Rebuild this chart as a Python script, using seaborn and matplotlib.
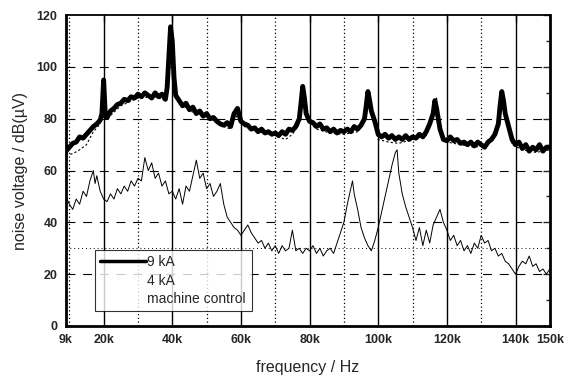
'''
    Noise spectrum: 9 kA / 4 kA / machine control
'''

import matplotlib
matplotlib.use('Agg')
import matplotlib.pyplot as plt
import matplotlib.ticker as mticker
from matplotlib.lines import Line2D
import pandas as pd
import seaborn as sns

# ---------------------------------- data ----------------------------------
f_9ka = [9, 10, 11, 12, 13, 14, 15, 16, 17, 18,
         19, 19.5, 20, 20.5, 21, 22, 23, 24, 25, 26,
         27, 28, 29, 30, 31, 32, 33, 34, 35, 36,
         37, 38, 38.5, 39, 39.5, 40, 40.5, 41, 42, 43,
         44, 45, 46, 47, 48, 49, 50, 51, 52, 53,
         54, 55, 56, 57, 58, 59, 60, 61, 62, 63,
         64, 65, 66, 67, 68, 69, 70, 71, 72, 73,
         74, 75, 76, 77, 77.5, 78, 78.5, 79, 80, 81,
         82, 83, 84, 85, 86, 87, 88, 89, 90, 91,
         92, 93, 94, 95, 96, 96.5, 97, 97.5, 98, 99,
         100, 101, 102, 103, 104, 105, 106, 107, 108, 109,
         110, 111, 112, 113, 114, 115, 116, 116.5, 117, 117.5,
         118, 119, 120, 121, 122, 123, 124, 125, 126, 127,
         128, 129, 130, 131, 132, 133, 134, 135, 135.5, 136,
         136.5, 137, 138, 139, 140, 141, 142, 143, 144, 145,
         146, 147, 148, 149, 150]
v_9ka = [67.5, 69, 70.5, 71, 73, 72.5, 74, 75.5, 77, 78,
         79.5, 82, 95, 81, 80.5, 83, 84, 85.5, 86, 87.5,
         87, 88.5, 88, 89.5, 88.5, 90, 89, 88, 90, 88.5,
         89.5, 87.5, 92, 104, 115.5, 110, 96, 89, 87, 85,
         86, 83.5, 84.5, 82, 83, 81, 82, 80, 80.5, 79,
         78, 77.5, 78.5, 77, 82, 84, 79, 78, 77.5, 76,
         76.5, 75, 76, 74.5, 75, 74, 74.5, 73.5, 75, 74,
         76, 75.5, 77, 80, 86, 92.5, 88, 82, 79, 78.5,
         77, 78, 76, 76.5, 75, 76, 74.5, 75.5, 75, 76,
         75, 77, 76, 77.5, 80, 85, 90.5, 87, 83, 79,
         74, 73, 74, 72.5, 73.5, 72, 73, 72, 73.5, 72,
         73, 72.5, 74, 73, 75, 78, 82, 87, 84, 80,
         76, 72, 71.5, 73, 71.5, 72, 70.5, 71, 70, 71,
         69.5, 71, 70, 69, 71, 72, 74, 78, 85, 90.5,
         87, 82, 77, 72, 70, 71, 68.5, 70, 67.5, 69,
         68, 70, 67.5, 69, 69]

f_4ka = [9, 10, 11, 12, 13, 14, 15, 16, 17, 17.5,
         18, 19, 20, 21, 22, 23, 24, 25, 26, 27,
         28, 29, 30, 31, 32, 33, 34, 35, 36, 37,
         38, 39, 40, 41, 42, 43, 44, 45, 46, 47,
         48, 49, 50, 51, 52, 53, 54, 55, 56, 57,
         58, 59, 60, 61, 62, 63, 64, 65, 66, 67,
         68, 69, 70, 71, 72, 73, 74, 75, 76, 77,
         78, 79, 80, 81, 82, 83, 84, 85, 86, 87,
         88, 89, 90, 91, 92, 92.5, 93, 94, 95, 96,
         97, 98, 99, 100, 101, 102, 103, 104, 105, 105.5,
         106, 107, 108, 109, 110, 111, 112, 113, 114, 115,
         116, 117, 118, 119, 120, 121, 122, 123, 124, 125,
         126, 127, 128, 129, 130, 131, 132, 133, 134, 135,
         136, 137, 138, 139, 140, 141, 142, 143, 144, 145,
         146, 147, 148, 149, 150]
v_4ka = [50, 47, 45, 49, 47, 52, 50, 56, 60, 55,
         58, 52, 49, 48, 51, 49, 53, 51, 54, 52,
         56, 54, 57, 56, 65, 60, 63, 57, 59, 54,
         56, 51, 52, 49, 53, 47, 54, 52, 58, 64,
         57, 59, 53, 55, 50, 52, 55, 47, 42, 40,
         38, 37, 35, 37, 39, 36, 34, 32, 33, 30,
         32, 29, 31, 28, 31, 29, 30, 37, 29, 30,
         28, 30, 29, 31, 28, 30, 27, 29, 30, 28,
         32, 36, 40, 47, 53, 56, 51, 45, 38, 34,
         31, 29, 33, 38, 44, 50, 56, 62, 67, 68,
         59, 51, 46, 42, 38, 33, 38, 31, 37, 32,
         39, 42, 45, 40, 37, 33, 35, 31, 33, 29,
         31, 28, 32, 30, 35, 32, 33, 29, 30, 27,
         28, 25, 24, 22, 20, 23, 25, 24, 27, 23,
         24, 21, 22, 20, 22]

f_ctrl = [9, 11, 13, 15, 17, 19, 20, 21, 25, 30,
          35, 38, 39.5, 41, 45, 50, 55, 57, 58, 59,
          61, 65, 70, 73, 75, 77, 78, 79, 82, 86,
          90, 94, 96, 97, 98, 100, 103, 106, 110, 114,
          116, 117, 118, 120, 124, 128, 132, 135, 136, 137,
          139, 142, 146, 150]
v_ctrl = [66, 66.5, 68, 70, 75, 78, 90, 80, 85, 88,
          88.5, 87, 112, 88, 83, 81, 77, 76, 83, 80,
          77, 75, 73.5, 72, 74, 78, 91, 80, 76, 74.5,
          74, 75, 79, 88, 83, 72, 71, 70.5, 72, 73.5,
          81, 88, 76, 71, 70, 69, 70, 76, 88, 81,
          70, 68, 67, 68]

series_labels = ['9 kA', '4 kA', 'machine control']
x_ticks = [9, 20, 40, 60, 80, 100, 120, 140, 150]
x_tick_labels = ['9k', '20k', '40k', '60k', '80k', '100k', '120k', '140k', '150k']

# ---------------------------------- plot ----------------------------------
sns.set_style('white')
plt.rcParams['font.family'] = ['Liberation Sans', 'DejaVu Sans']

df_9 = pd.DataFrame({'f': f_9ka, 'v': v_9ka})
df_4 = pd.DataFrame({'f': f_4ka, 'v': v_4ka})
df_c = pd.DataFrame({'f': f_ctrl, 'v': v_ctrl})

fig, ax = plt.subplots(figsize=(5.68, 3.79), dpi=100)
fig.subplots_adjust(left=0.116, right=0.968, top=0.96, bottom=0.14)

# grid: solid every 20k, dotted at odd tens, dashed horizontal
for xv in [20, 40, 60, 80, 100, 120, 140]:
    ax.axvline(xv, color='black', lw=1.0, zorder=1)
for xv in [10, 30, 50, 70, 90, 110, 130]:
    ax.axvline(xv, color='black', lw=0.9, ls=(0, (1, 2)), zorder=1)
for yv in [20, 40, 60, 80, 100]:
    ax.axhline(yv, color='black', lw=0.8, ls=(0, (8, 7)), zorder=1)
ax.axhline(30, color='black', lw=0.7, ls=(0, (1, 3)), zorder=1)

sns.lineplot(data=df_c, x='f', y='v', ax=ax, color='black', lw=0.8,
             linestyle=(0, (2, 2)), sort=False, zorder=2)
sns.lineplot(data=df_4, x='f', y='v', ax=ax, color='black', lw=0.7,
             sort=False, zorder=3)
sns.lineplot(data=df_9, x='f', y='v', ax=ax, color='black', lw=3.5,
             sort=False, zorder=4)

ax.set_xlim(9, 150)
ax.set_ylim(0, 120)
ax.set_xticks(x_ticks)
ax.set_xticklabels(x_tick_labels)
ax.set_yticks([0, 20, 40, 60, 80, 100, 120])
ax.yaxis.set_minor_locator(mticker.MultipleLocator(10))
ax.tick_params(axis='both', which='major', direction='in', length=5, width=1,
               labelsize=9, pad=6, top=True, right=True)
ax.tick_params(axis='y', which='minor', direction='in', length=3, width=1, right=True)
for lab in ax.get_xticklabels() + ax.get_yticklabels():
    lab.set_fontweight('bold')

ax.set_xlabel('frequency / Hz', fontsize=11.5, labelpad=10)
ax.set_ylabel('noise voltage / dB(\u00b5V)', fontsize=11.5, labelpad=6)

for side in ['left', 'bottom', 'right']:
    ax.spines[side].set_linewidth(2.0)
ax.spines['top'].set_linewidth(1.3)
for s in ax.spines.values():
    s.set_color('black')

handles = [Line2D([], [], color='black', lw=2.5),
           Line2D([], [], color='black', lw=0),
           Line2D([], [], color='black', lw=0)]
leg = ax.legend(handles, series_labels, loc='lower left',
                bbox_to_anchor=(0.045, 0.025), fontsize=10, frameon=True,
                fancybox=False, handlelength=3.3, handletextpad=0.1,
                labelspacing=0.3, borderpad=0.4)
leg.get_frame().set_edgecolor('black')
leg.get_frame().set_linewidth(0.8)
leg.set_zorder(5)

fig.savefig('out.png', dpi=100)
